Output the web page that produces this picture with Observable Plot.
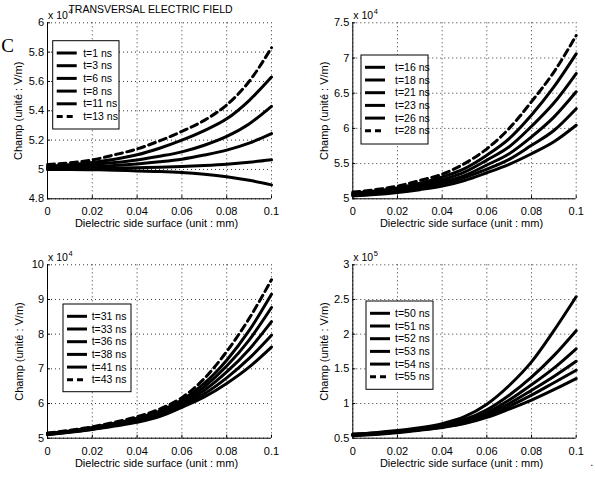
<!DOCTYPE html>
<html>
<head>
<meta charset="utf-8">
<script src="https://cdn.jsdelivr.net/npm/d3@7"></script>
<script src="https://cdn.jsdelivr.net/npm/@observablehq/plot@0.6"></script>
<style>
  body { margin: 0; background: #fff; }
  #fig { position: relative; width: 595px; height: 477px; overflow: hidden; background: #fff;
         font-family: "Liberation Sans", Arial, Helvetica, sans-serif; }
  #fig svg { position: absolute; overflow: visible; }
</style>
</head>
<body>
<div id="fig"></div>
<script>
// Position along the dielectric side surface (mm)
const position = [0, 0.01, 0.02, 0.03, 0.04, 0.05, 0.06, 0.07, 0.08, 0.09, 0.1];
const xTicks = [0, 0.02, 0.04, 0.06, 0.08, 0.1];

// Panel 1: t = 1 .. 13 ns  (x 10^4 V/m)
const labelsA = ["t=1 ns", "t=3 ns", "t=6 ns", "t=8 ns", "t=11 ns", "t=13 ns"];
const fieldA = [
  [5.000, 5.000, 4.998, 4.995, 4.990, 4.986, 4.979, 4.967, 4.950, 4.926, 4.895],
  [5.004, 5.005, 5.007, 5.009, 5.012, 5.015, 5.020, 5.027, 5.036, 5.049, 5.066],
  [5.010, 5.014, 5.019, 5.027, 5.038, 5.052, 5.070, 5.098, 5.132, 5.180, 5.245],
  [5.016, 5.023, 5.033, 5.047, 5.065, 5.090, 5.120, 5.165, 5.225, 5.310, 5.430],
  [5.022, 5.032, 5.048, 5.070, 5.100, 5.145, 5.200, 5.265, 5.345, 5.470, 5.630],
  [5.034, 5.045, 5.065, 5.100, 5.140, 5.195, 5.260, 5.335, 5.440, 5.600, 5.830]
];
const yTicksA = [4.8, 5, 5.2, 5.4, 5.6, 5.8, 6];

// Panel 2: t = 16 .. 28 ns  (x 10^4 V/m)
const labelsB = ["t=16 ns", "t=18 ns", "t=21 ns", "t=23 ns", "t=26 ns", "t=28 ns"];
const fieldB = [
  [5.040, 5.060, 5.090, 5.130, 5.180, 5.260, 5.370, 5.490, 5.640, 5.810, 6.045],
  [5.050, 5.070, 5.110, 5.150, 5.210, 5.300, 5.420, 5.560, 5.760, 5.970, 6.280],
  [5.060, 5.080, 5.120, 5.170, 5.240, 5.330, 5.480, 5.640, 5.880, 6.160, 6.520],
  [5.070, 5.095, 5.140, 5.190, 5.270, 5.380, 5.550, 5.740, 6.030, 6.360, 6.780],
  [5.080, 5.110, 5.155, 5.220, 5.310, 5.430, 5.620, 5.855, 6.190, 6.590, 7.060],
  [5.095, 5.130, 5.180, 5.260, 5.350, 5.500, 5.710, 6.000, 6.380, 6.800, 7.320]
];
const yTicksB = [5, 5.5, 6, 6.5, 7, 7.5];

// Panel 3: t = 31 .. 43 ns  (x 10^4 V/m)
const labelsC = ["t=31 ns", "t=33 ns", "t=36 ns", "t=38 ns", "t=41 ns", "t=43 ns"];
const fieldC = [
  [5.10, 5.17, 5.25, 5.35, 5.46, 5.62, 5.89, 6.19, 6.58, 7.05, 7.63],
  [5.11, 5.18, 5.26, 5.37, 5.49, 5.66, 5.94, 6.28, 6.74, 7.30, 7.97],
  [5.12, 5.19, 5.28, 5.39, 5.52, 5.70, 5.99, 6.38, 6.91, 7.56, 8.36],
  [5.13, 5.20, 5.29, 5.41, 5.55, 5.74, 6.04, 6.48, 7.08, 7.83, 8.77],
  [5.14, 5.21, 5.31, 5.43, 5.58, 5.78, 6.10, 6.58, 7.25, 8.10, 9.15],
  [5.15, 5.23, 5.33, 5.46, 5.62, 5.84, 6.17, 6.72, 7.50, 8.45, 9.57]
];
const yTicksC = [5, 6, 7, 8, 9, 10];

// Panel 4: t = 50 .. 55 ns  (x 10^5 V/m)
const labelsD = ["t=50 ns", "t=51 ns", "t=52 ns", "t=53 ns", "t=54 ns", "t=55 ns"];
const fieldD = [
  [0.560, 0.580, 0.610, 0.650, 0.710, 0.810, 0.990, 1.260, 1.600, 2.050, 2.540],
  [0.555, 0.575, 0.600, 0.640, 0.690, 0.770, 0.910, 1.120, 1.380, 1.690, 2.050],
  [0.550, 0.570, 0.595, 0.630, 0.680, 0.750, 0.870, 1.050, 1.270, 1.510, 1.790],
  [0.545, 0.565, 0.590, 0.625, 0.670, 0.735, 0.845, 1.000, 1.190, 1.390, 1.610],
  [0.540, 0.560, 0.585, 0.620, 0.660, 0.720, 0.820, 0.960, 1.120, 1.300, 1.480],
  [0.535, 0.555, 0.580, 0.615, 0.655, 0.710, 0.800, 0.920, 1.050, 1.200, 1.360]
];
const yTicksD = [0.5, 1, 1.5, 2, 2.5, 3];

// Line styles: legend entries and the curves themselves
const legendDash = [false, false, false, false, false, true];
const curveDashABC = [false, false, false, false, false, true];
const curveDashD = [false, false, false, false, false, false];

const title = "TRANSVERSAL ELECTRIC FIELD";
const xLabel = "Dielectric side surface (unit : mm)";
const yLabel = "Champ (unité : V/m)";

const FONT = '"Liberation Sans", Arial, Helvetica, sans-serif';

const panels = [
  {labels: labelsA, values: fieldA, yTicks: yTicksA, exp: "4", curveDash: curveDashABC,
   left: 0, top: 0, width: 297, height: 238, ml: 47, mr: 26, mt: 22.3, mb: 39.7, ylDx: -28.7,
   legend: {x: 52.7, y: 40.7, w: 66.3, h: 88.3, tx: 30.5}, title: true, mark: true},
  {labels: labelsB, values: fieldB, yTicks: yTicksB, exp: "4", curveDash: curveDashABC,
   left: 297, top: 0, width: 298, height: 238, ml: 55.3, mr: 19.3, mt: 22.3, mb: 39.7, ylDx: -28.1,
   legend: {x: 64, y: 55, w: 67, h: 89, tx: 34}},
  {labels: labelsC, values: fieldC, yTicks: yTicksC, exp: "4", curveDash: curveDashABC,
   left: 0, top: 238, width: 297, height: 239, ml: 47, mr: 26, mt: 26.3, mb: 39.3, ylDx: -27.8,
   legend: {x: 63, y: 66, w: 68, h: 87.7, tx: 28.7}},
  {labels: labelsD, values: fieldD, yTicks: yTicksD, exp: "5", curveDash: curveDashD,
   left: 297, top: 238, width: 298, height: 239, ml: 55.3, mr: 19.3, mt: 26.3, mb: 39.3, ylDx: -28,
   legend: {x: 69, y: 63, w: 67, h: 88.3, tx: 29}, dot: true}
];

const fig = document.getElementById("fig");

for (const p of panels) {
  const rows = p.values.flatMap((vals, s) =>
    vals.map((v, i) => ({x: position[i], y: v, s, dashed: p.curveDash[s]})));
  const y0 = p.yTicks[0], y1 = p.yTicks[p.yTicks.length - 1];
  const plotW = p.width - p.ml - p.mr;
  const plotH = p.height - p.mt - p.mb;
  const gridStyle = {stroke: "#000", strokeOpacity: 0.8, strokeDasharray: "1,3", strokeWidth: 1};

  const marks = [
    Plot.gridX(xTicks, gridStyle),
    Plot.gridY(p.yTicks, gridStyle),
    Plot.ruleX([0], {stroke: "#000", strokeWidth: 1}),
    Plot.ruleY([y0], {stroke: "#000", strokeWidth: 1}),
    Plot.tickX(xTicks, {x: d => d, stroke: "#000", insetTop: plotH - 3}),
    Plot.tickY(p.yTicks, {y: d => d, stroke: "#000", insetRight: plotW - 3}),
    Plot.axisX(xTicks, {tickSize: 0, tickPadding: 8.5, tickFormat: d => String(d), label: null, fontSize: 11}),
    Plot.axisY(p.yTicks, {tickSize: 0, tickPadding: 3.5, tickFormat: d => String(d), label: null, fontSize: 11}),
    Plot.line(rows.filter(d => !d.dashed), {x: "x", y: "y", z: "s", stroke: "#000", strokeWidth: 3, curve: "monotone-x"}),
    Plot.line(rows.filter(d => d.dashed), {x: "x", y: "y", z: "s", stroke: "#000", strokeWidth: 3, strokeDasharray: "7,4.5", curve: "monotone-x"}),
    Plot.text([xLabel], {text: d => d, frameAnchor: "bottom", textAnchor: "middle", lineAnchor: "middle", dy: 25, dx: -3, fontSize: 11}),
    Plot.text([yLabel], {text: d => d, frameAnchor: "left", textAnchor: "middle", lineAnchor: "middle", rotate: -90, dx: p.ylDx, fontSize: 11}),
    Plot.text(["x 10"], {text: d => d, frameAnchor: "top-left", textAnchor: "start", lineAnchor: "middle", dx: 0.5, dy: -7.3, fontSize: 10.5}),
    Plot.text([p.exp], {text: d => d, frameAnchor: "top-left", textAnchor: "start", lineAnchor: "middle", dx: 21, dy: -11.5, fontSize: 7.5})
  ];
  if (p.title) {
    marks.push(Plot.text([title], {text: d => d, frameAnchor: "top", textAnchor: "middle", lineAnchor: "middle", dx: -9, dy: -13.3, fontSize: 10.5}));
  }
  if (p.mark) {
    marks.push(Plot.text(["C"], {text: d => d, frameAnchor: "top-left", textAnchor: "middle", lineAnchor: "middle", dx: -40, dy: 23.3, fontSize: 19, fontFamily: '"Liberation Serif", "Times New Roman", serif'}));
  }
  if (p.dot) {
    marks.push(Plot.text(["."], {text: d => d, frameAnchor: "bottom-right", textAnchor: "middle", lineAnchor: "middle", dx: 15.5, dy: 24, fontSize: 11}));
  }

  const chart = Plot.plot({
    width: p.width,
    height: p.height,
    marginLeft: p.ml, marginRight: p.mr, marginTop: p.mt, marginBottom: p.mb,
    style: {fontFamily: FONT, fontSize: "11px", color: "#000", background: "transparent", overflow: "visible"},
    x: {domain: [0, 0.1]},
    y: {domain: [y0, y1]},
    marks
  });
  chart.style.left = p.left + "px";
  chart.style.top = p.top + "px";

  // Legend box
  const L = p.legend;
  const g = d3.select(chart).append("g")
    .attr("font-family", FONT).attr("font-size", 10.5).attr("text-anchor", "start");
  g.append("rect").attr("x", L.x).attr("y", L.y).attr("width", L.w).attr("height", L.h)
    .attr("fill", "#fff").attr("stroke", "#000").attr("stroke-width", 1);
  p.labels.forEach((lab, i) => {
    const yy = L.y + 12.3 + i * 12.7;
    g.append("line").attr("x1", L.x + 4).attr("x2", L.x + 24).attr("y1", yy).attr("y2", yy)
      .attr("stroke", "#000").attr("stroke-width", 3)
      .attr("stroke-dasharray", legendDash[i] ? "6,4" : null);
    g.append("text").attr("x", L.x + L.tx).attr("y", yy).attr("dy", "0.35em")
      .attr("text-anchor", "start").attr("fill", "#000").text(lab);
  });

  fig.appendChild(chart);
}
</script>
</body>
</html>
